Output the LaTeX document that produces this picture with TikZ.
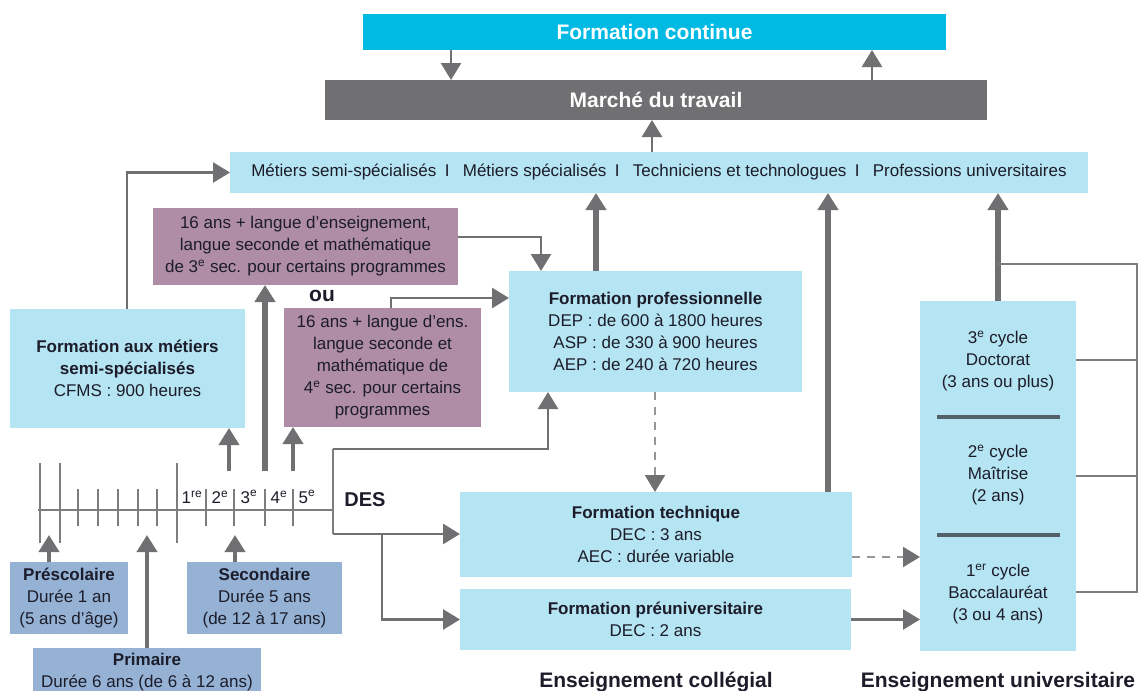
\documentclass[tikz,border=0pt]{standalone}
\usepackage{fontspec}
\setmainfont{Liberation Sans}
\usetikzlibrary{arrows.meta,calc}

\definecolor{cyanfc}{RGB}{0,186,228}
\definecolor{marche}{RGB}{112,112,115}
\definecolor{pale}{RGB}{181,228,242}
\definecolor{mauve}{RGB}{176,141,166}
\definecolor{school}{RGB}{149,178,213}
\definecolor{arrowgray}{RGB}{112,112,115}
\definecolor{linegray}{RGB}{125,125,128}
\definecolor{dashgray}{RGB}{150,150,152}
\definecolor{ink}{RGB}{28,28,42}
\definecolor{rulecol}{RGB}{82,96,106}

\newcommand\fBody{\fontsize{17}{22}\selectfont}
\newcommand\fBand{\fontsize{17}{22}\selectfont}
\newcommand\fHead{\fontsize{21}{24}\selectfont\bfseries}
\newcommand\fLabel{\fontsize{21}{24}\selectfont\bfseries}

\begin{document}
\begin{tikzpicture}[x=1pt,y=-1pt,
  box/.style={anchor=north west, inner sep=0pt, outer sep=0pt, align=center,
    text=ink, font=\fBody},
  pbox/.style={box, fill=pale},
  mbox/.style={box, fill=mauve},
  sbox/.style={box, fill=school},
  tip/.style={-{Triangle[width=20pt,length=17pt,color=arrowgray]}},
  conn/.style={tip, draw=arrowgray, line width=2.6pt},
  stem/.style={tip, draw=arrowgray, line width=4pt},
  heavy/.style={tip, draw=arrowgray, line width=5.5pt},
  dconn/.style={tip, draw=dashgray, line width=2.2pt, dash pattern=on 8pt off 7pt},
  tl/.style={draw=linegray, line width=1.8pt},
  brk/.style={draw=linegray, line width=1.6pt},
  rulebar/.style={draw=rulecol, line width=4pt}]

\useasboundingbox (0,0) rectangle (1144,691);

% --- top: continuing education and labour market
\node[box, fill=cyanfc, text=white, font=\fHead, minimum width=583, minimum height=36]
  (fc) at (363,14) {Formation continue};
\node[box, fill=marche, text=white, font=\fHead, minimum width=662, minimum height=40]
  (mt) at (325,80) {Marché du travail};
\node[pbox, font=\fBand, minimum width=858, minimum height=41] (met) at (230,152)
  {Métiers semi-spécialisés\enspace I\enspace\ Métiers spécialisés\enspace I\enspace\ Techniciens et technologues\enspace I\enspace\ Professions universitaires};

% --- entry requirements
\node[mbox, minimum width=305, minimum height=77] (p1) at (153,208)
  {16 ans + langue d’enseignement,\\ langue seconde et mathématique\\ de 3\textsuperscript{e} sec. pour certains programmes};
\node[text=ink, font=\fontsize{21}{24}\selectfont\bfseries] (ou) at (322,296) {ou};
\node[mbox, minimum width=197, minimum height=119] (p2) at (284,308)
  {16 ans + langue d’ens.\\ langue seconde et\\ mathématique de\\ 4\textsuperscript{e} sec. pour certains\\ programmes};

% --- training boxes
\node[pbox, minimum width=235, minimum height=119] (fam) at (10,309)
  {\textbf{Formation aux métiers}\\ \textbf{semi-spécialisés}\\ CFMS : 900 heures};
\node[pbox, minimum width=293, minimum height=121] (fp) at (509,271)
  {\textbf{Formation professionnelle}\\ DEP : de 600 à 1800 heures\\ ASP : de 330 à 900 heures\\ AEP : de 240 à 720 heures};
\node[pbox, minimum width=392, minimum height=85] (ft) at (460,492)
  {\textbf{Formation technique}\\ DEC : 3 ans\\ AEC : durée variable};
\node[pbox, minimum width=391, minimum height=61] (fpu) at (460,589)
  {\textbf{Formation préuniversitaire}\\ DEC : 2 ans};

% --- university cycles
\node[pbox, minimum width=156, minimum height=350] (univ) at (920,301) {};
\node[text=ink, font=\fBody, align=center] (cyc3) at (998,361)
  {3\textsuperscript{e} cycle\\ Doctorat\\ (3 ans ou plus)};
\node[text=ink, font=\fBody, align=center] (cyc2) at (998,475)
  {2\textsuperscript{e} cycle\\ Maîtrise\\ (2 ans)};
\node[text=ink, font=\fBody, align=center] (cyc1) at (998,594)
  {1\textsuperscript{er} cycle\\ Baccalauréat\\ (3 ou 4 ans)};
\draw[rulebar] (937,417) -- (1060,417);
\draw[rulebar] (937,535) -- (1060,535);

% --- school levels
\node[sbox, minimum width=118, minimum height=72] (pres) at (10,562)
  {\textbf{Préscolaire}\\ Durée 1 an\\ (5 ans d’âge)};
\node[sbox, minimum width=228, minimum height=48] (prim) at (33,648)
  {\textbf{Primaire}\\ Durée 6 ans (de 6 à 12 ans)};
\node[sbox, minimum width=155, minimum height=72] (sec) at (187,562)
  {\textbf{Secondaire}\\ Durée 5 ans\\ (de 12 à 17 ans)};

% --- sector labels
\node[text=ink, font=\fLabel, anchor=base] (lcol) at (656,687) {Enseignement collégial};
\node[text=ink, font=\fLabel, anchor=base] (luni) at (998,687) {Enseignement universitaire};

% --- school timeline
\draw[tl] (38,510) -- (333,510);
\foreach \x in {40,60,177} \draw[tl] (\x,463) -- (\x,543);
\foreach \x in {78,98,118,138,157,206,234,265,293} \draw[tl] (\x,489) -- (\x,526);
\foreach \x/\t in {192/1\textsuperscript{re},220/2\textsuperscript{e},249/3\textsuperscript{e},279/4\textsuperscript{e},307/5\textsuperscript{e}}
  \node[text=ink, font=\fBody, inner sep=0pt] at (\x,497) {\t};
\node[text=ink, font=\fontsize{20}{24}\selectfont\bfseries] (des) at (365,500) {DES};

% --- reference points for connectors
\coordinate (xa) at (451,0);
\coordinate (xb) at (872,0);
\coordinate (xc) at (652,0);
\coordinate (xd) at (596,0);
\coordinate (xe) at (828,0);
\coordinate (xf) at (998,0);
\coordinate (xg) at (655,0);
\coordinate (fam1) at (127,0);
\coordinate (k1) at (541,237);
\coordinate (k2) at (391,298);
\coordinate (k3) at (0,557);
\coordinate (t1) at (229,471);
\coordinate (t2) at (265,471);
\coordinate (t3) at (293,471);
\coordinate (s1) at (49,535);
\coordinate (s2) at (147,535);
\coordinate (s3) at (235,535);
\coordinate (d0) at (333,449);
\coordinate (d1) at (548,449);
\coordinate (d2) at (333,534);
\coordinate (d3) at (382,534);
\coordinate (b0) at (998,264);
\coordinate (b1) at (1137,264);
\coordinate (b2) at (1137,592);
\coordinate (c3) at (0,360);
\coordinate (c2) at (0,476);

% --- connectors
\draw[conn] (fc.south -| xa) -- (mt.north -| xa);
\draw[conn] (mt.north -| xb) -- (fc.south -| xb);
\draw[conn] (met.north -| xc) -- (mt.south -| xc);
\draw[heavy] (fp.north -| xd) -- (met.south -| xd);
\draw[heavy] (ft.north -| xe) -- (met.south -| xe);
\draw[heavy] (univ.north -| xf) -- (met.south -| xf);
\draw[conn] (fam.north -| fam1) |- (met.west);
\draw[conn] (p1.east |- k1) -| (fp.north -| k1);
\draw[conn] (p2.north -| k2) |- (fp.west |- k2);
\draw[dconn] (fp.south -| xg) -- (ft.north -| xg);
\draw[dconn] (ft.east |- k3) -- (univ.west |- k3);
\draw[conn] (fpu.east) -- (univ.west |- fpu.east);

% timeline to entry boxes
\draw[stem] (t1) -- (fam.south -| t1);
\draw[heavy] (t2) -- (p1.south -| t2);
\draw[stem] (t3) -- (p2.south -| t3);

% school boxes to timeline
\draw[stem] (pres.north -| s1) -- (s1);
\draw[stem] (prim.north -| s2) -- (s2);
\draw[stem] (sec.north -| s3) -- (s3);

% diploma bracket
\draw[tl] (d0) -- (d2);
\draw[conn] (d0) -| (fp.south -| d1);
\draw[conn] (d2) -- (ft.west |- d2);
\draw[conn] (d3) |- (fpu.west);

% university cycle bracket
\draw[brk] (b0) -| (b2) -- (univ.east |- b2);
\draw[brk] (univ.east |- c3) -- (b1 |- c3);
\draw[brk] (univ.east |- c2) -- (b1 |- c2);
\end{tikzpicture}
\end{document}
